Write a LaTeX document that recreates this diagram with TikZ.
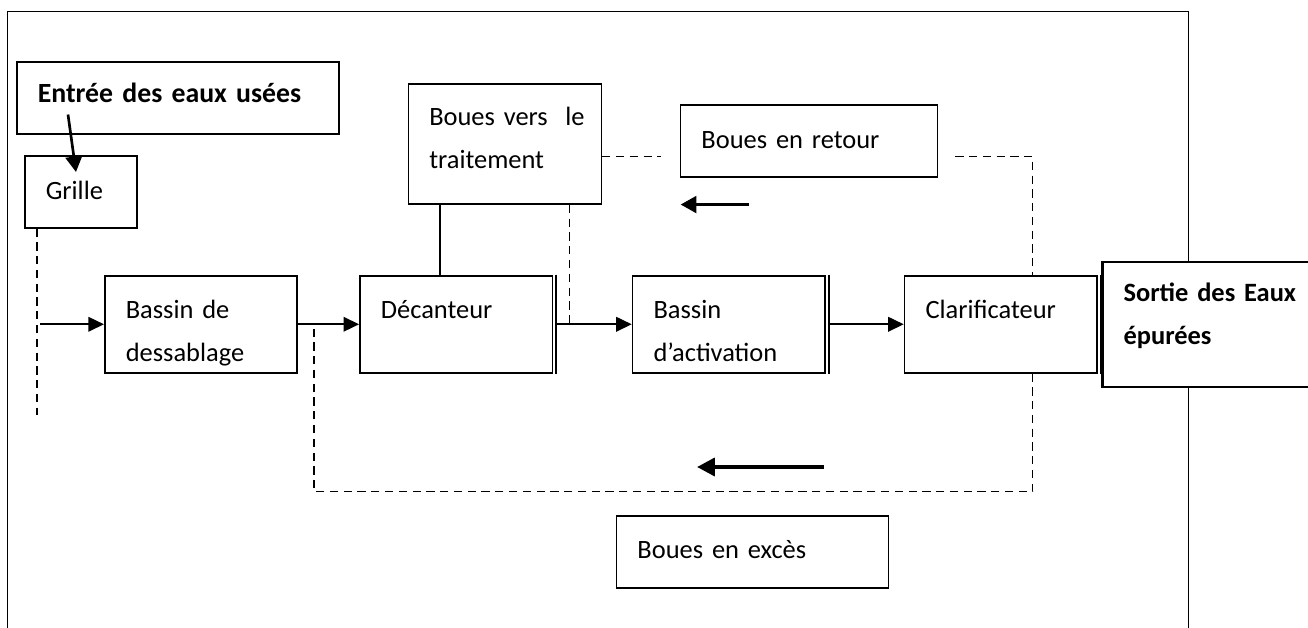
\documentclass[tikz,border=0pt]{standalone}
\usepackage{fontspec}
\setmainfont{Carlito}
\usetikzlibrary{arrows.meta, positioning, calc}
\newcommand\diagfont{\fontsize{11.9}{19.35}\selectfont}
\tikzset{
  stage/.style={draw, line width=0.7pt, align=left, inner xsep=9.45pt, inner ysep=0pt,
                text width=67.7pt, text height=19.35pt, text depth=24.3pt},
  tag/.style={draw, line width=0.7pt, anchor=north west, align=left,
              inner xsep=9.45pt, inner ysep=0pt, text height=19.3pt, text depth=13.1pt},
  flow/.style={-{Triangle[length=7pt,width=6.5pt]}, line width=0.9pt},
  backflow/.style={-{Triangle[length=7pt,width=7.5pt]}, line width=1.2pt},
  bigflow/.style={-{Triangle[length=8pt,width=8pt]}, line width=1.8pt},
  sludge/.style={dash pattern=on 3.7pt off 2.5pt, line width=0.6pt}
}

\begin{document}
\begin{tikzpicture}[x=0.45pt, y=-0.45pt, font=\diagfont]
  \useasboundingbox (0,0) rectangle (1308,628);
  % outer frame, open at the bottom
  \draw[line width=0.7pt] (7.7,650) -- (7.7,11.7) -- (1188.3,11.7) -- (1188.3,650);

  % inlet
  \node[tag, text width=126pt, text height=18.3pt, text depth=14.1pt,
        font=\fontsize{12.5}{19.35}\selectfont\bfseries] (entree) at (16,61) {Entrée des eaux usées};
  \node[tag, text width=31.5pt, text height=19.8pt, text depth=12.6pt] (grille) at (24,155) {Grille};
  \coordinate (inA) at ($(entree.south west)+(52,-20)$);
  \coordinate (inB) at ($(grille.north west)+(52,17)$);
  \draw[backflow] (inA) -- (inB);

  % main line
  \node[stage, anchor=north west] (dessab) at (104,275) {Bassin de\\dessablage};
  \node[stage, right=27.5pt of dessab] (decant) {Décanteur};
  \node[stage, right=35.4pt of decant] (activ) {Bassin\\d’activation};
  \node[stage, right=35.1pt of activ] (clarif) {Clarificateur};
  \foreach \n in {decant, activ, clarif}
    \draw[line width=0.7pt] ([xshift=1.35pt]\n.north east) -- ([xshift=1.35pt]\n.south east);
  \node[tag, fill=white, line width=1pt, text width=112pt, text height=18pt, text depth=38.25pt,
        font=\diagfont\bfseries, right=1.65pt of clarif] (sortie) {Sortie des Eaux\\épurées};

  \coordinate (gtap) at ($(grille.south west)+(13,186)$);
  \coordinate (feed) at ($(gtap |- dessab.west)+(3,0)$);
  \draw[sludge] (grille.south -| gtap) -- (gtap);
  \draw[flow] (feed) -- (dessab.west);
  \draw[flow] (dessab.east) -- (decant.west);
  \draw[flow] ([xshift=1.35pt]decant.east) -- (activ.west);
  \draw[flow] ([xshift=1.35pt]activ.east) -- (clarif.west);
  \draw[line width=0.9pt] ([xshift=1.35pt]clarif.east) -- (sortie.west |- clarif.east);

  % sludge lines
  \node[tag, text width=68pt, text height=18.8pt, text depth=35.2pt] (vers) at (407.5,83.3)
    {\mbox{Boues vers~~le}\\traitement};
  \node[tag, text width=96.8pt, text height=19.5pt, text depth=12.9pt] (retour) at (679.7,104) {Boues en retour};
  \node[tag, text width=103.6pt, text height=19.2pt, text depth=13.2pt] (exces) at (615.7,515) {Boues en excès};

  \coordinate (vsolid) at ($(decant.north west)+(81,0)$);
  \coordinate (vtap) at ($(decant.east)+(16.6,0)$);
  \draw[line width=0.8pt] (vers.south -| vsolid) -- (vsolid);
  \draw[sludge] (vers.south -| vtap) -- (vtap);

  \coordinate (rl) at ($(retour.west)+(-19,15.7)$);
  \coordinate (rr) at ($(retour.east)+(17,15.7)$);
  \coordinate (ctap) at ($(clarif.north)+(32,0)$);
  \draw[sludge] (vers.east |- rl) -- (rl);
  \draw[sludge] (rr) -| (ctap);
  \coordinate (rb1) at ($(retour.south west)+(69,27)$);
  \coordinate (rb2) at ($(retour.south west)+(1,27)$);
  \draw[backflow] (rb1) -- (rb2);

  \coordinate (purge) at ($(dessab.east)+(16,167.5)$);
  \draw[sludge] (clarif.south -| ctap) |- (purge) -- (purge |- dessab.east);
  \coordinate (eb1) at ($(exces.north west)+(208.3,-48)$);
  \coordinate (eb2) at ($(exces.north west)+(81.3,-48)$);
  \draw[bigflow] (eb1) -- (eb2);
\end{tikzpicture}
\end{document}
